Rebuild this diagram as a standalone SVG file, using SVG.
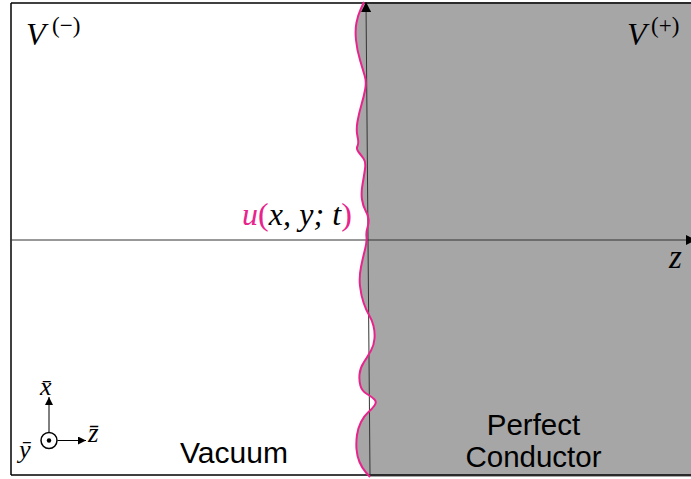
<svg xmlns="http://www.w3.org/2000/svg" width="691" height="479" viewBox="0 0 691 479">
<style>
.math{font-family:"Liberation Serif","DejaVu Serif",serif;font-style:italic;fill:#000}
.mathup{font-family:"Liberation Serif","DejaVu Serif",serif;fill:#000}
.sans{font-family:"Liberation Sans",Arial,sans-serif;fill:#000;font-size:29.5px}
.axis{stroke:#333;stroke-width:1;fill:none}
.pink{fill:#e8248c}
</style>
<defs>
<marker id="arr" viewBox="0 0 10 10" refX="10" refY="5" markerWidth="10" markerHeight="10" markerUnits="userSpaceOnUse" orient="auto">
<path d="M0,0 L10,5 L0,10 Z" fill="#000"/>
</marker>
<marker id="arrs" viewBox="0 0 10 10" refX="10" refY="5" markerWidth="8" markerHeight="8" markerUnits="userSpaceOnUse" orient="auto">
<path d="M0,0 L10,5 L0,10 Z" fill="#000"/>
</marker>
</defs>
<rect x="0" y="0" width="691" height="479" fill="#fff"/>
<g id="conductor">
<path fill="#a6a6a6" d="M364,2 L361,8.5 Q358,15 356.5,22.5 Q355,30 356,40 Q357,50 360,60 Q363,70 364.75,76 Q366.5,82 365.25,89 Q364,96 361.5,104.5 Q359,113 357.5,121.5 Q356,130 357.5,136.5 Q359,143 357.5,146 Q356,149 358.5,152 Q361,155 363.5,158.5 Q366,162 365,169 Q364,176 362.5,184.5 Q361,193 362,199.5 Q363,206 365.5,210.5 Q368,215 368.5,219 Q369,223 367.5,227.5 Q366,232 366.5,237 Q367,242 365,249.5 Q363,257 361,267 Q359,277 360,286 Q361,295 363.5,302.5 Q366,310 369,315 Q372,320 373.5,326 Q375,332 374.5,338.5 Q374,345 371,350.5 Q368,356 364,362 Q360,368 359.5,374.5 Q359,381 360.5,386 Q362,391 367,394 Q372,397 374.5,399.5 Q377,402 374.5,405.5 Q372,409 368,412.5 Q364,416 361,422 Q358,428 357,435 Q356,442 356.5,449 Q357,456 359.5,462 Q362,468 366,472.5 L370,477 L700,477 L700,2 Z"/>
</g>
<g id="frame" stroke="#000" stroke-width="1.5" fill="none">
<line x1="11" y1="3" x2="700" y2="3"/>
<line x1="11" y1="3" x2="11" y2="475"/>
<line x1="11" y1="475" x2="700" y2="475"/>
</g>
<g id="connectors">
<line class="axis" x1="11" y1="240" x2="696" y2="240" marker-end="url(#arr)"/>
<line class="axis" x1="370" y1="475" x2="366" y2="2" marker-end="url(#arr)"/>
<line x1="49" y1="432" x2="49" y2="397" stroke="#000" stroke-width="1" marker-end="url(#arrs)"/>
<line x1="57.5" y1="440.5" x2="86" y2="440.5" stroke="#000" stroke-width="1" marker-end="url(#arrs)"/>
</g>
<g id="surface">
<path fill="none" stroke="#e8248c" stroke-width="2" stroke-linejoin="round" d="M364,2 L361,8.5 Q358,15 356.5,22.5 Q355,30 356,40 Q357,50 360,60 Q363,70 364.75,76 Q366.5,82 365.25,89 Q364,96 361.5,104.5 Q359,113 357.5,121.5 Q356,130 357.5,136.5 Q359,143 357.5,146 Q356,149 358.5,152 Q361,155 363.5,158.5 Q366,162 365,169 Q364,176 362.5,184.5 Q361,193 362,199.5 Q363,206 365.5,210.5 Q368,215 368.5,219 Q369,223 367.5,227.5 Q366,232 366.5,237 Q367,242 365,249.5 Q363,257 361,267 Q359,277 360,286 Q361,295 363.5,302.5 Q366,310 369,315 Q372,320 373.5,326 Q375,332 374.5,338.5 Q374,345 371,350.5 Q368,356 364,362 Q360,368 359.5,374.5 Q359,381 360.5,386 Q362,391 367,394 Q372,397 374.5,399.5 Q377,402 374.5,405.5 Q372,409 368,412.5 Q364,416 361,422 Q358,428 357,435 Q356,442 356.5,449 Q357,456 359.5,462 Q362,468 366,472.5 L370,477"/>
</g>
<g id="label-vminus">
<text class="math" x="26" y="45" font-size="32">V</text>
<text class="mathup" x="52" y="33" font-size="23">(−)</text>
</g>
<g id="label-vplus">
<text class="math" x="627" y="45" font-size="32">V</text>
<text class="mathup" x="651" y="33" font-size="23">(+)</text>
</g>
<g id="label-u">
<text class="math" x="242" y="225" font-size="32" textLength="110" lengthAdjust="spacing"><tspan class="pink">u</tspan><tspan class="pink" font-style="normal">(</tspan>x, y; t<tspan class="pink" font-style="normal">)</tspan></text>
</g>
<g id="label-z">
<text class="math" x="669" y="268" font-size="33">z</text>
</g>
<g id="coords">
<circle cx="49" cy="440.5" r="8" fill="#fff" stroke="#000" stroke-width="1.5"/>
<circle cx="49" cy="440.5" r="2.2" fill="#000"/>
<text class="math" x="40" y="395" font-size="26">x̄</text>
<text class="math" x="88" y="442" font-size="27">z̄</text>
<text class="math" x="19" y="458" font-size="26">ȳ</text>
</g>
<g id="label-vacuum">
<text class="sans" x="180" y="463" textLength="108" lengthAdjust="spacingAndGlyphs">Vacuum</text>
</g>
<g id="label-conductor">
<text class="sans" x="533.5" y="435" text-anchor="middle">Perfect</text>
<text class="sans" x="533.5" y="466.5" text-anchor="middle">Conductor</text>
</g>
</svg>
